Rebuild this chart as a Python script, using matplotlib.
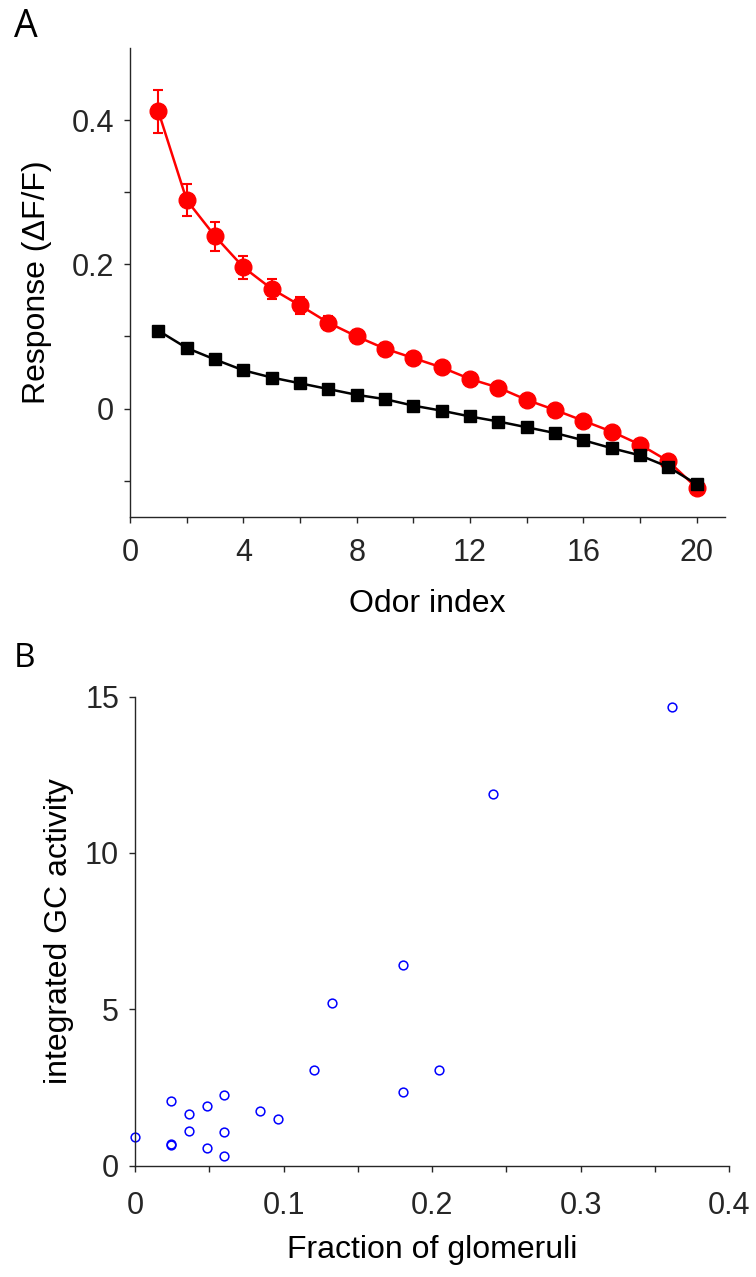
import matplotlib.pyplot as plt

# Panel A data
odor_index = list(range(1, 21))
red_resp = [0.412, 0.289, 0.239, 0.196, 0.166, 0.143, 0.119, 0.100, 0.083, 0.070,
            0.057, 0.041, 0.029, 0.012, -0.002, -0.017, -0.032, -0.050, -0.073, -0.110]
red_err = [0.030, 0.022, 0.020, 0.016, 0.014, 0.012, 0.010, 0.009, 0.008, 0.008,
           0.007, 0.007, 0.006, 0.006, 0.006, 0.005, 0.005, 0.005, 0.004, 0.004]
black_resp = [0.108, 0.084, 0.068, 0.053, 0.043, 0.035, 0.027, 0.019, 0.013, 0.004,
              -0.003, -0.011, -0.018, -0.026, -0.034, -0.044, -0.055, -0.065, -0.081, -0.105]

# Panel B data
frac_glom = [0.0, 0.0241, 0.0241, 0.0241, 0.0361, 0.0361, 0.0482, 0.0482, 0.0602, 0.0602,
             0.0602, 0.0843, 0.0964, 0.1205, 0.1325, 0.1807, 0.1807, 0.2048, 0.2410, 0.3614]
gc_activity = [0.91, 2.06, 0.65, 0.68, 1.66, 1.11, 1.90, 0.56, 2.26, 1.06,
               0.32, 1.76, 1.49, 3.05, 5.19, 6.41, 2.35, 3.07, 11.88, 14.68]

dark = '#262626'
plt.rcParams['font.family'] = ['Liberation Sans', 'DejaVu Sans']
plt.rcParams['axes.edgecolor'] = dark
plt.rcParams['xtick.color'] = dark
plt.rcParams['ytick.color'] = dark
plt.rcParams['text.color'] = dark

fig = plt.figure(figsize=(7.56, 12.77), dpi=100)


def style_axes(ax):
    ax.spines['top'].set_visible(False)
    ax.spines['right'].set_visible(False)
    ax.spines['left'].set_linewidth(1.0)
    ax.spines['bottom'].set_linewidth(1.0)
    ax.tick_params(which='both', direction='out', length=4.5, width=1.0, labelsize=22)
    ax.tick_params(axis='x', pad=11)
    ax.tick_params(axis='y', pad=7)


# ---- Panel A ----
axA = fig.add_axes([0.172, 0.5954, 0.787, 0.367])
axA.errorbar(odor_index, red_resp, yerr=red_err, color='red', marker='o', markersize=12,
             linewidth=1.8, elinewidth=1.5, capsize=3.8, capthick=1.5, zorder=2)
axA.plot(odor_index, black_resp, color='black', marker='s', markersize=9,
         linewidth=1.8, zorder=3)
axA.set_xlim(0, 21)
axA.set_ylim(-0.15, 0.5)
axA.set_xticks([0, 4, 8, 12, 16, 20])
axA.set_xticks([2, 6, 10, 14, 18], minor=True)
axA.set_yticks([0, 0.2, 0.4])
axA.set_yticklabels(['0', '0.2', '0.4'])
axA.set_yticks([-0.1, 0.1, 0.3], minor=True)
style_axes(axA)
axA.set_xlabel('Odor index', fontsize=23, labelpad=15)
axA.set_ylabel('Response (\u0394F/F)', fontsize=23, labelpad=14)

# ---- Panel B ----
axB = fig.add_axes([0.1786, 0.0872, 0.786, 0.3673])
axB.plot(frac_glom, gc_activity, linestyle='none', marker='o', markersize=6.3,
         markerfacecolor='none', markeredgecolor='blue', markeredgewidth=1.1, clip_on=False)
axB.set_xlim(0, 0.4)
axB.set_ylim(0, 15)
axB.set_xticks([0, 0.1, 0.2, 0.3, 0.4])
axB.set_xticklabels(['0', '0.1', '0.2', '0.3', '0.4'])
axB.set_xticks([0.05, 0.15, 0.25, 0.35], minor=True)
axB.set_yticks([0, 5, 10, 15])
style_axes(axB)
axB.tick_params(axis='x', pad=14)
axB.set_xlabel('Fraction of glomeruli', fontsize=23, labelpad=10)
axB.set_ylabel('integrated GC activity', fontsize=23, labelpad=8)

# panel letters
fig.text(0.018, 0.971, 'A', fontsize=27, family=['Open Sans', 'DejaVu Sans'], color='black', va='baseline')
fig.text(0.018, 0.478, 'B', fontsize=24, family=['Open Sans', 'DejaVu Sans'], color='black', va='baseline')

fig.savefig('out.png', dpi=100)
